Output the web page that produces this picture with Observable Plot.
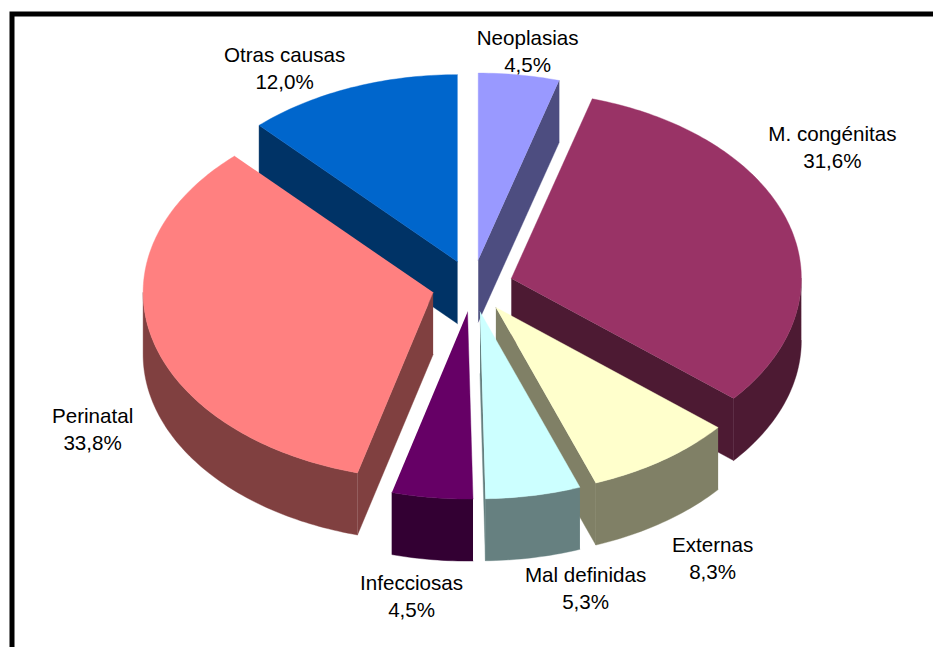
<!DOCTYPE html>
<html>
<head>
<meta charset="utf-8">
<style>html,body{margin:0;padding:0;background:#fff;overflow:hidden}</style>
<script src="https://cdn.jsdelivr.net/npm/d3@7"></script>
<script src="https://cdn.jsdelivr.net/npm/@observablehq/plot@0.6"></script>
</head>
<body>
<div id="chart"></div>
<script>
// Data, clockwise from 12 o'clock
const categories = ["Neoplasias", "M. congénitas", "Externas", "Mal definidas", "Infecciosas", "Perinatal", "Otras causas"];
const shares = [4.5, 31.6, 8.3, 5.3, 4.5, 33.8, 12.0];
const topColors = ["#9999ff", "#993366", "#ffffcc", "#ccffff", "#660066", "#ff8080", "#0066cc"];
const wallColors = ["#4d4d80", "#4d1a33", "#808066", "#668080", "#330033", "#804040", "#003366"];
const paintOrder = [6, 0, 1, 5, 2, 3, 4];
// Label anchors in the pie's own unit coordinates
const labelX = [0.19, 1.241, 0.828, 0.39, -0.21, -1.31, -0.648];
const labelY = [-1.265, -0.751, 1.447, 1.607, 1.65, 0.757, -1.174];

const depth = 0.332, explode = 0.14, step = 1;
const rad = (a) => a * Math.PI / 180;
const total = d3.sum(shares);
let running = 0;
const slices = shares.map((s, i) => {
  const a = running / total * 360;
  running += s;
  const b = running / total * 360;
  const mid = rad((a + b) / 2);
  return {i, a, b, cx: explode * Math.sin(mid), cy: -explode * Math.cos(mid)};
});

const rows = [];
const pt = (s, deg, drop = 0) => ({x: s.cx + Math.sin(rad(deg)), y: s.cy - Math.cos(rad(deg)) + drop});
const face = (id, color, pts) => pts.forEach((p) => rows.push({x: p.x, y: p.y, face: id, color}));
const sweep = (s, from, to) => {
  const out = d3.range(from, to, step);
  out.push(to);
  return out;
};

for (const k of paintOrder) {
  const s = slices[k];
  const wall = wallColors[k];
  const apex = {x: s.cx, y: s.cy}, apexLow = {x: s.cx, y: s.cy + depth};
  if (-Math.sin(rad(s.a)) > 0) face(`${k}-start`, wall, [apex, pt(s, s.a), pt(s, s.a, depth), apexLow]);
  if (Math.sin(rad(s.b)) > 0) face(`${k}-end`, wall, [apex, pt(s, s.b), pt(s, s.b, depth), apexLow]);
  const from = Math.max(s.a, 90), to = Math.min(s.b, 270);
  if (from < to) {
    const arc = sweep(s, from, to);
    face(`${k}-outer`, wall, [...arc.map((d) => pt(s, d)), ...arc.slice().reverse().map((d) => pt(s, d, depth))]);
  }
  face(`${k}-top`, topColors[k], [apex, ...sweep(s, s.a, s.b).map((d) => pt(s, d))]);
}

const labels = categories.map((c, i) => ({
  text: `${c}\n${shares[i].toFixed(1).replace(".", ",")}%`,
  x: labelX[i],
  y: labelY[i]
}));

const chart = Plot.plot({
  width: 933,
  height: 647,
  margin: 0,
  style: {background: "#fff", fontFamily: "'Liberation Sans', Arial, sans-serif"},
  x: {domain: [-1, 1], range: [182, 762], axis: null},
  y: {domain: [-1, 1], range: [98.5, 472.5], axis: null},
  color: {type: "identity"},
  marks: [
    Plot.line(rows, {x: "x", y: "y", z: "face", fill: "color", stroke: "color", strokeWidth: 0.4, curve: "linear"}),
    Plot.text(labels, {x: "x", y: "y", text: "text", fontSize: 20.6, lineHeight: 1.32, fill: "#000", textAnchor: "middle", lineAnchor: "middle"}),
    Plot.frame({stroke: "#000", strokeWidth: 5, insetLeft: 11.5, insetTop: 13.5, insetRight: -10, insetBottom: -10})
  ]
});
document.getElementById("chart").appendChild(chart);
</script>
</body>
</html>
